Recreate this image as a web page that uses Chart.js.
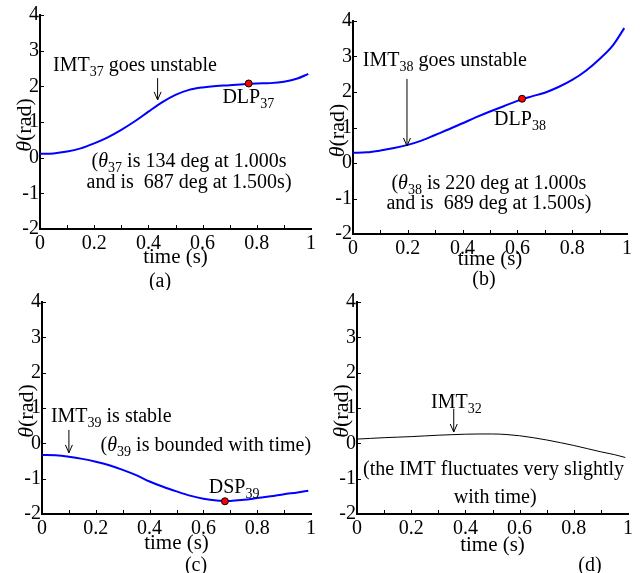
<!DOCTYPE html>
<html><head><meta charset="utf-8">
<script src="https://cdn.jsdelivr.net/npm/chart.js@4.4.0/dist/chart.umd.min.js"></script>
<style>
html,body{margin:0;padding:0;background:#fff;}
#wrap{position:relative;width:642px;height:573px;overflow:hidden;background:#fff;}
canvas{position:absolute;}
</style></head><body>
<div id="wrap">
<canvas id="pa" width="321" height="290" style="left:0;top:0"></canvas>
<canvas id="pb" width="321" height="290" style="left:321px;top:0"></canvas>
<canvas id="pc" width="321" height="283" style="left:0;top:290px"></canvas>
<canvas id="pd" width="321" height="283" style="left:321px;top:290px"></canvas>
</div>
<script>
// ---- data ----
const time   = [0,0.05,0.1,0.15,0.2,0.25,0.3,0.35,0.4,0.45,0.5,0.55,0.6,0.65,0.7,0.75,0.8,0.85,0.9,0.95,0.99];
const thetaA = [0.11,0.12,0.17,0.26,0.40,0.57,0.78,1.02,1.29,1.55,1.76,1.90,1.97,2.01,2.03,2.06,2.08,2.09,2.13,2.22,2.35];
const thetaB = [0.29,0.30,0.35,0.42,0.51,0.63,0.79,0.95,1.12,1.29,1.45,1.60,1.75,1.87,1.98,2.14,2.34,2.60,2.93,3.33,3.80];
const thetaC = [-0.33,-0.34,-0.38,-0.44,-0.52,-0.62,-0.75,-0.90,-1.08,-1.23,-1.36,-1.48,-1.57,-1.62,-1.63,-1.60,-1.55,-1.50,-1.44,-1.39,-1.34];
const thetaD = [0.12,0.14,0.16,0.175,0.19,0.21,0.23,0.245,0.258,0.265,0.265,0.25,0.215,0.16,0.095,0.02,-0.06,-0.15,-0.24,-0.32,-0.40];
const markA = {x:0.77, y:2.08};   // DLP37
const markB = {x:0.617, y:1.81};  // DLP38
const markC = {x:0.68, y:-1.64};  // DSP39
const xTickValues = [0,0.2,0.4,0.6,0.8,1];
const xTickLabels = ['0','0.2','0.4','0.6','0.8','1'];
const yTickValues = [-2,-1,0,1,2,3,4];
const yTickLabels = ['-2','-1','0','1','2','3','4'];
const xMinorTicks = [0.1,0.2,0.3,0.4,0.5,0.6,0.7,0.8,0.9];

const FONT = "'Liberation Serif','Times New Roman',serif";

function drawRich(ctx, parts, x, y, align) {
  let w = 0;
  const segs = parts.map(p => {
    const t = p[0], kind = p[1];
    const size = kind === 'sub' ? 14 : 20;
    const font = (kind === 'it' ? 'italic ' : '') + size + 'px ' + FONT;
    ctx.font = font;
    const mw = ctx.measureText(t).width;
    w += mw;
    return {t, font, mw, dy: kind === 'sub' ? 5 : 0};
  });
  let cx = align === 'center' ? x - w / 2 : x;
  ctx.textAlign = 'left'; ctx.textBaseline = 'alphabetic'; ctx.fillStyle = '#000';
  segs.forEach(s => { ctx.font = s.font; ctx.fillText(s.t, cx, y + s.dy); cx += s.mw; });
}

const decor = {
  id: 'decor',
  afterDraw(chart, args, o) {
    const ctx = chart.ctx, xs = chart.scales.x, ys = chart.scales.y, a = chart.chartArea;
    ctx.save();
    // inward ticks
    ctx.strokeStyle = '#000'; ctx.lineWidth = 1; ctx.beginPath();
    xMinorTicks.forEach(v => { const px = Math.round(xs.getPixelForValue(v)) + 0.5; ctx.moveTo(px, a.bottom); ctx.lineTo(px, a.bottom - 4); });
    yTickValues.slice(1).forEach(v => { const py = Math.round(ys.getPixelForValue(v)) + 0.5; ctx.moveTo(a.left, py); ctx.lineTo(a.left + 4, py); });
    ctx.stroke();
    // arrow
    if (o.arrow) {
      const px = xs.getPixelForValue(o.arrow.x), p1 = ys.getPixelForValue(o.arrow.y1), p2 = ys.getPixelForValue(o.arrow.y2);
      ctx.beginPath(); ctx.moveTo(px, p1); ctx.lineTo(px, p2);
      ctx.moveTo(px - 3.5, p2 - 8); ctx.lineTo(px, p2); ctx.lineTo(px + 3.5, p2 - 8);
      ctx.stroke();
    }
    // texts in data coords
    (o.texts || []).forEach(t => drawRich(ctx, t.parts, xs.getPixelForValue(t.x), ys.getPixelForValue(t.y), t.align));
    // y title
    ctx.translate(a.left - 15, (a.top + a.bottom) / 2 + 3);
    ctx.rotate(-Math.PI / 2);
    ctx.font = 'italic 22px ' + FONT;
    const w1 = ctx.measureText('\u03B8').width;
    ctx.font = '22px ' + FONT;
    const w2 = ctx.measureText('(rad)').width;
    ctx.textBaseline = 'middle'; ctx.textAlign = 'left'; ctx.fillStyle = '#000';
    ctx.font = 'italic 22px ' + FONT; ctx.fillText('\u03B8', -(w1 + w2) / 2, 0);
    ctx.font = '22px ' + FONT; ctx.fillText('(rad)', -(w1 + w2) / 2 + w1, 0);
    ctx.setTransform(1, 0, 0, 1, 0, 0);
    // panel label
    ctx.font = '20px ' + FONT; ctx.textAlign = 'center'; ctx.textBaseline = 'middle';
    ctx.fillText(o.label, o.labelX, o.labelY);
    ctx.restore();
  }
};

function makePanel(id, theta, color, width, mark, L, deco) {
  const datasets = [{
    type: 'line', data: time.map((t, i) => ({x: t, y: theta[i]})),
    borderColor: color, borderWidth: width, pointRadius: 0, fill: false,
    cubicInterpolationMode: 'monotone', order: 2
  }];
  if (mark) datasets.push({
    type: 'scatter', data: [mark], pointRadius: 3.5, pointBackgroundColor: '#ff0000',
    pointBorderColor: '#000', pointBorderWidth: 1, order: 1
  });
  new Chart(document.getElementById(id), {
    type: 'line',
    data: {datasets},
    options: {
      responsive: false, animation: false, events: [],
      layout: {padding: {left: 0, right: L.right, top: L.top, bottom: 0}},
      plugins: {legend: {display: false}, tooltip: {enabled: false}, decor: deco},
      scales: {
        x: {
          type: 'linear', min: 0, max: 1,
          afterBuildTicks: s => { s.ticks = xTickValues.map(v => ({value: v})); },
          afterFit: s => { s.height = L.h; },
          ticks: {padding: 5, color: '#000', maxRotation: 0, autoSkip: false,
                  font: {family: FONT, size: 20, lineHeight: 1},
                  callback: (v, i) => xTickLabels[i]},
          grid: {display: true, drawOnChartArea: false, drawTicks: false, color: 'rgba(0,0,0,0)'},
          border: {display: true, color: '#000', width: 2},
          title: {display: true, text: 'time (s)', color: '#000',
                  font: {family: FONT, size: 21, lineHeight: 1}, padding: {top: 0, bottom: L.tb}}
        },
        y: {
          type: 'linear', min: -2, max: 4,
          afterBuildTicks: s => { s.ticks = yTickValues.map(v => ({value: v})); },
          afterFit: s => { s.width = L.w; },
          ticks: {padding: 1, color: '#000', autoSkip: false,
                  font: {family: FONT, size: 20, lineHeight: 1},
                  callback: (v, i) => yTickLabels[i]},
          grid: {display: true, drawOnChartArea: false, drawTicks: false, color: 'rgba(0,0,0,0)'},
          border: {display: true, color: '#000', width: 2}
        }
      }
    },
    plugins: [decor]
  });
}

makePanel('pa', thetaA, '#0000ff', 2, markA, {w: 40, right: 9, top: 15, h: 61, tb: 22}, {
  label: '(a)', labelX: 160, labelY: 282,
  arrow: {x: 0.434, y1: 2.23, y2: 1.62},
  texts: [
    {x: 0.048, y: 2.43, align: 'left', parts: [['IMT'], ['37', 'sub'], [' goes unstable']]},
    {x: 0.673, y: 1.53, align: 'left', parts: [['DLP'], ['37', 'sub']]},
    {x: 0.55, y: -0.26, align: 'center', parts: [['('], ['\u03B8', 'it'], ['37', 'sub'], [' is 134 deg at 1.000s']]},
    {x: 0.55, y: -0.85, align: 'center', parts: [['and is  687 deg at 1.500s)']]}
  ]
});
makePanel('pb', thetaB, '#0000ff', 2, markB, {w: 32, right: 15, top: 21, h: 56, tb: 20}, {
  label: '(b)', labelX: 163, labelY: 280,
  arrow: {x: 0.197, y1: 2.37, y2: 0.48},
  texts: [
    {x: 0.036, y: 2.73, align: 'left', parts: [['IMT'], ['38', 'sub'], [' goes unstable']]},
    {x: 0.515, y: 1.07, align: 'left', parts: [['DLP'], ['38', 'sub']]},
    {x: 0.496, y: -0.73, align: 'center', parts: [['('], ['\u03B8', 'it'], ['38', 'sub'], [' is 220 deg at 1.000s']]},
    {x: 0.496, y: -1.30, align: 'center', parts: [['and is  689 deg at 1.500s)']]}
  ]
});
makePanel('pc', thetaC, '#0000ff', 2, markC, {w: 42, right: 8, top: 12, h: 59, tb: 19}, {
  label: '(c)', labelX: 196, labelY: 276,
  arrow: {x: 0.10, y1: 0.38, y2: -0.27},
  texts: [
    {x: 0.033, y: 0.61, align: 'left', parts: [['IMT'], ['39', 'sub'], [' is stable']]},
    {x: 0.609, y: -0.22, align: 'center', parts: [['('], ['\u03B8', 'it'], ['39', 'sub'], [' is bounded with time)']]},
    {x: 0.62, y: -1.41, align: 'left', parts: [['DSP'], ['39', 'sub']]}
  ]
});
makePanel('pd', thetaD, '#000000', 1, null, {w: 36, right: 14, top: 12, h: 59, tb: 17}, {
  label: '(d)', labelX: 269, labelY: 276,
  arrow: {x: 0.357, y1: 0.98, y2: 0.32},
  texts: [
    {x: 0.273, y: 1.01, align: 'left', parts: [['IMT'], ['32', 'sub']]},
    {x: 0.504, y: -0.90, align: 'center', parts: [['(the IMT fluctuates very slightly']]},
    {x: 0.51, y: -1.69, align: 'center', parts: [['with time)']]}
  ]
});
</script>
</body></html>
